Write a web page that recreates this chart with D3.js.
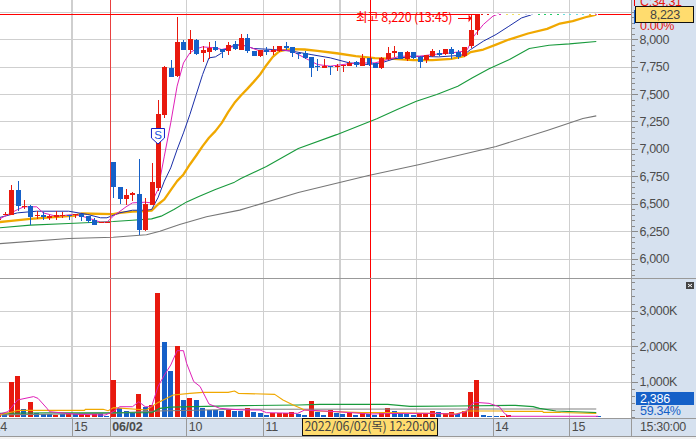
<!DOCTYPE html>
<html><head><meta charset="utf-8">
<script src="https://cdn.jsdelivr.net/npm/d3@7"></script>
<style>html,body{margin:0;padding:0;background:#fff;overflow:hidden}
text{font-family:"Liberation Sans",sans-serif}</style></head>
<body><svg id="c" width="696" height="439"></svg>
<script>
// ---- candles: bar 0 = 2022/06/02 09:00, one bar every 5 minutes, first bar = -18
const firstBar=-18;
const opens=[6356,6402,6393,6621,6469,6484,6387,6393,6372,6381,6393,6402,6396,6408,6387,6356,6329,6326,6882,6654,6539,6578,6593,6265,6493,6645,7313,7742,7669,7979,7900,7997,7872,7881,7930,7912,7891,7960,7906,8015,7891,7845,7900,7884,7888,7939,7930,7875,7875,7839,7754,7736,7760,7748,7754,7760,7790,7760,7833,7781,7739,7815,7872,7884,7821,7884,7839,7809,7851,7875,7869,7912,7881,7851,7936,8088];
const closes=[6365,6408,6621,6478,6484,6378,6393,6375,6384,6399,6402,6387,6408,6378,6347,6305,6332,6332,6651,6539,6584,6596,6259,6502,6694,7322,7751,7657,7979,7900,8006,7863,7897,7921,7906,7884,7951,7915,8015,7891,7845,7897,7881,7900,7936,7921,7872,7866,7830,7742,7745,7760,7745,7760,7769,7784,7766,7830,7778,7736,7830,7875,7888,7821,7884,7830,7796,7860,7888,7860,7909,7866,7839,7930,8088,8223];
const highs=[6380,6425,6675,6703,6530,6493,6432,6426,6402,6432,6423,6402,6408,6408,6387,6372,6332,6332,6882,6654,6630,6609,6909,6554,6873,7450,7760,7806,8203,7997,8088,8003,7936,7979,7985,7912,7979,7988,8045,8049,7891,7897,7927,7936,7942,7976,7930,7875,7891,7839,7824,7815,7760,7778,7769,7803,7803,7866,7833,7781,7839,7930,7942,7884,7891,7884,7851,7860,7912,7906,7909,7930,7900,7930,8220,8223];
const lows=[6345,6395,6393,6432,6454,6305,6362,6356,6356,6350,6372,6356,6372,6347,6326,6305,6329,6326,6548,6499,6493,6523,6217,6256,6493,6615,7283,7651,7651,7900,7869,7860,7796,7824,7891,7827,7854,7897,7906,7875,7845,7836,7857,7857,7881,7897,7836,7824,7824,7654,7708,7736,7678,7708,7699,7754,7745,7760,7754,7736,7730,7809,7839,7815,7799,7821,7742,7784,7839,7845,7860,7821,7821,7839,7921,8042];
// ---- volume in thousands of shares, same bar order
const volumes=[55,75,995,1155,225,420,120,75,75,55,75,120,75,75,65,75,100,30,1040,240,170,100,650,290,330,3490,2110,1300,2000,480,535,480,255,200,205,170,200,178,178,250,150,113,56,113,113,113,150,85,56,450,140,56,197,122,95,103,56,103,75,56,103,250,169,122,85,56,122,122,169,140,103,131,85,169,700,1040,56,28,28,20,47,0,0,0,0,0,0,0,0,0,0,0,0,0,30];
const volumeUp=[1,0,1,1,0,1,0,0,0,1,0,1,0,1,1,1,0,0,1,0,0,0,1,0,1,1,0,0,1,0,1,0,0,0,0,0,1,0,0,1,0,0,0,1,1,1,1,0,0,1,0,0,1,0,0,1,0,1,0,0,1,1,0,0,0,0,1,1,1,0,1,1,0,1,1,1,0,0,0,1,1,0,0,0,0,0,0,0,0,0,0,0,0,0,0];
// ---- price moving averages: bar positions and values
const ma5Bars=[-18,-16,-15,-14,-12,-11,-9,-6,-4,-2,-1,0,2,3,5,6,7,8,9,10,11,12,13,14,16,17,18,19,20,21,23,25,26,28,30,32,34,36,38,41,43,45,48,50,53,55,55.5,56,56.5,58,59.5,60.4];
const ma5=[6356,6417,6447,6472,6472,6417,6387,6402,6372,6332,6332,6387,6472,6508,6514,6508,6630,6934,7237,7572,7784,7875,7912,7930,7921,7906,7921,7936,7951,7936,7891,7891,7906,7891,7830,7769,7754,7769,7784,7784,7815,7845,7845,7860,7875,7891,7906,7967,8027,8134,8210,8231];
const ma10Bars=[-18,-15,-12,-7,-4,-2,-1,1,3,5,6,7,8,9,10,11,12,13,14,15,16,17,18,19,20,22,25,28,31,34,37,40,42,44,47,51,54,55,56,58,60,62,64,65.5];
const ma10=[6372,6417,6432,6432,6402,6372,6372,6417,6441,6441,6447,6554,6706,6827,6994,7146,7313,7496,7678,7830,7839,7875,7927,7942,7951,7915,7906,7891,7860,7830,7784,7769,7784,7821,7845,7839,7851,7860,7906,7982,8043,8118,8194,8222];
const ma20Bars=[-18,-16,-13,-6,-5,0,1,3,5,6,7,8,9,10,11,12,13,14,15,16,17,18,19,20,21,22,23,24,25,26,27,28,30,32,35,38,41,44,47,50,53,55,56,58,60,62,65,68,70,72,74,75.7];
const ma20=[6332,6344,6362,6393,6411,6405,6417,6429,6432,6438,6493,6539,6624,6706,6767,6858,6940,7025,7101,7162,7237,7335,7420,7487,7547,7611,7678,7763,7839,7888,7903,7909,7906,7894,7872,7845,7827,7821,7809,7809,7821,7845,7882,7906,7951,7997,8052,8094,8143,8164,8200,8225];
const ma60Bars=[-18,-13,-7,0,3,6,7.5,9.5,11.5,13.5,16,19,20,24,29,35,41.3,44.5,47.5,50.7,54,56.3,58.9,62.1,65.2,68.3,71.5,75.7];
const ma60=[6280,6305,6320,6338,6350,6362,6387,6447,6517,6569,6630,6697,6730,6839,7004,7130,7274,7359,7435,7496,7572,7648,7730,7815,7915,7945,7957,7979];
const ma120Bars=[-18,-7,0,5.2,7.3,10.4,14.6,19.8,29,40,48,60,68,73.6,75.7];
const ma120=[6135,6183,6195,6217,6250,6311,6381,6442,6602,6757,6858,7022,7168,7277,7301];
// ---- volume moving averages
const vma5Bars=[-18,-16.5,-15,-12.5,-11.8,-10.4,-10,-5.7,-1.3,0,1,3,4,5,6,7,8,9,10,11,11.5,12.6,13.6,15,16.7,20,23,24,28.9,30,35,40.2,45.4,50.7,53.7,55.3,56.3,56.8,58.9,60.5,61.3,62,76];
const vma5=[75,150,480,575,525,245,150,75,55,150,290,290,430,290,290,855,1180,1465,1870,1870,1510,1000,860,365,245,200,197,122,103,197,150,85,103,103,75,150,385,413,385,290,103,20,20];
const vma20Bars=[-18,-15.7,-15,-4.5,-4.4,-1.6,-0.8,0,5.2,6.8,9.4,12,14,18,19,19.6,25.3,26.6,28.2,30,32,39,43,49.6,53.7,55.3,61.3,61.4,67.3,67.4,70,70.1,75.7];
const vma20=[55,150,188,188,216,216,178,263,197,385,620,667,695,695,732,667,639,479,338,197,169,122,122,103,85,169,169,160,160,130,130,125,100];
const vma60Bars=[-18,-10,0,6,7.3,9,20,29,32.4,43,46.5,54,63,65.8,66.8,69.4,75.7];
const vma60=[100,120,120,120,245,280,320,338,357,357,300,310,329,291,244,169,122];
const vma120Bars=[-18,0,7,20,56,75.7];
const vma120=[60,110,170,220,225,225];
// ---- axis labels
const priceTicks=[6000,6250,6500,6750,7000,7250,7500,7750,8000,8250];
const priceMinor=d3.range(5850,8300,50);
const volTicks=[1000,2000,3000];
const volMinor=d3.range(0,3900,200);
const hourBars=[-18.47,-6.47,-0.47,11.53,23.53,35.53,47.53,59.53,71.53];
const hourLabels=["14","15","06/02","10","11","","","14","15"];
const dotBars=[57.7,58.5,60.5,61.5,62.5,63.5,64.5,65.5,66.5,67.5,68.5,69.5,70.5,71.5,72.5,73.5,74.5,75.5];
const dotColors=["#e8170c","#e8170c","#e020b8","#f0e060","#f0e060","#f0e060","#c8d0f0","#c8d0f0","#22cc66","#22cc66","#22cc66","#22cc66","#66dddd","#66dddd","#66dddd","#66dddd","#f0b030","#e060c0"];

const RED="#e8190e",BLUE="#1560c8",PANEL="#d6e1ef",GRID="#cfcfcf",TXT="#4c4c4c";
const svg=d3.select("#c");
const x=d3.scaleLinear().domain([0,1]).range([113.3,119.68]);
const y=d3.scaleLinear().domain([6000,8000]).range([258.6,39.2]);
const v=d3.scaleLinear().domain([0,3000]).range([417,310.6]);
const clip=svg.append("defs").append("clipPath").attr("id","plot");
clip.append("rect").attr("x",0).attr("y",0).attr("width",631).attr("height",418);
const crisp=s=>s.attr("shape-rendering","crispEdges");

// panels
crisp(svg.append("rect").attr("x",632).attr("y",0).attr("width",64).attr("height",436).attr("fill",PANEL));
crisp(svg.append("rect").attr("x",0).attr("y",419).attr("width",696).attr("height",17).attr("fill",PANEL));
crisp(svg.append("rect").attr("x",0).attr("y",437).attr("width",696).attr("height",2).attr("fill","#f2f2f2"));

// grid
const grid=svg.append("g").attr("clip-path","url(#plot)");
crisp(grid.selectAll(".hp").data(priceTicks).join("line").attr("x1",0).attr("x2",631)
 .attr("y1",d=>Math.round(y(d))+.5).attr("y2",d=>Math.round(y(d))+.5).attr("stroke",GRID));
crisp(grid.selectAll(".hv").data(volTicks).join("line").attr("x1",0).attr("x2",631)
 .attr("y1",d=>Math.round(v(d))+.5).attr("y2",d=>Math.round(v(d))+.5).attr("stroke",GRID));
crisp(grid.selectAll(".vg").data(hourBars).join("line").attr("y1",0).attr("y2",418)
 .attr("x1",d=>x(d)).attr("x2",d=>x(d)).attr("stroke",GRID).attr("stroke-width",1.2));
crisp(svg.selectAll(".vs").data(hourBars).join("line").attr("y1",419).attr("y2",436)
 .attr("x1",d=>x(d)).attr("x2",d=>x(d)).attr("stroke","#999"));

const plot=svg.append("g").attr("clip-path","url(#plot)");
// volume bars
crisp(plot.selectAll(".vb").data(volumes).join("rect")
 .attr("x",(d,i)=>Math.round(x(firstBar+i)-2.5)).attr("width",5)
 .attr("y",d=>v(d)).attr("height",d=>v(0)-v(d))
 .attr("fill",(d,i)=>volumeUp[i]?RED:BLUE));
// volume MAs
const drawLine=(bars,vals,sc,color,w)=>{
 const ln=d3.line().x((d,i)=>x(bars[i])).y(d=>sc(d));
 plot.append("path").attr("d",ln(vals)).attr("fill","none").attr("stroke",color).attr("stroke-width",w).attr("stroke-linejoin","round");
};
drawLine(vma120Bars,vma120,v,"#808080",1.1);
drawLine(vma60Bars,vma60,v,"#189a3c",1.2);
drawLine(vma20Bars,vma20,v,"#f0a800",1.1);
drawLine(vma5Bars,vma5,v,"#e020b8",1);
// price MAs
drawLine(ma120Bars,ma120,y,"#777777",1.1);
drawLine(ma60Bars,ma60,y,"#189a3c",1.1);
drawLine(ma20Bars,ma20,y,"#f0a800",2.3);
drawLine(ma10Bars,ma10,y,"#1a2ea8",1);
drawLine(ma5Bars,ma5,y,"#e020b8",1);
// candles
const cg=plot.append("g");
opens.forEach((o,i)=>{
 const c=closes[i],col=c>=o?RED:BLUE,cx=Math.round(x(firstBar+i))+.5;
 crisp(cg.append("line").attr("x1",cx).attr("x2",cx).attr("y1",y(highs[i])).attr("y2",y(lows[i])).attr("stroke",col));
 crisp(cg.append("rect").attr("x",cx-2.5).attr("width",5).attr("y",y(Math.max(o,c))).attr("height",Math.max(1,Math.abs(y(o)-y(c)))).attr("fill",col));
});
// day separator, crosshair, high line
const dayBar=-0.47,crossBar=40.3,topPrice=8225;
crisp(svg.append("line").attr("x1",x(dayBar)).attr("x2",x(dayBar)).attr("y1",0).attr("y2",418).attr("stroke","#e84040"));
crisp(svg.append("line").attr("x1",x(crossBar)).attr("x2",x(crossBar)).attr("y1",0).attr("y2",418).attr("stroke","#ff0000"));
crisp(svg.append("line").attr("x1",0).attr("x2",631).attr("y1",y(topPrice)).attr("y2",y(topPrice)).attr("stroke","#ff0000"));
crisp(svg.append("line").attr("x1",x(57.5)).attr("x2",x(76)).attr("y1",y(topPrice)).attr("y2",y(topPrice)).attr("stroke","#fff"));
crisp(svg.selectAll(".dot").data(dotBars).join("rect").attr("x",d=>x(d)).attr("y",y(topPrice)-.5).attr("width",2).attr("height",1).attr("fill",(d,i)=>dotColors[i]));
// high annotation
svg.append("text").attr("x",356).attr("y",22).attr("fill","#f00").attr("font-size",12.5).attr("letter-spacing","-0.2")
 .style("font-family",'"Noto Sans CJK KR"').text("최고 8,220 (13:45)");
crisp(svg.append("line").attr("x1",x(54.1)).attr("x2",x(56)).attr("y1",y(8190)).attr("y2",y(8190)).attr("stroke","#f00"));
svg.append("path").attr("d",d3.line()([[x(56)-2,y(8190)-4],[x(56)+1,y(8190)],[x(56)-2,y(8190)+4]])+"Z").attr("fill","#f00");
// S marker
const sm=svg.append("g").attr("transform",`translate(${x(7)},128)`);
sm.append("path").attr("d",d3.line()([[-6.5,.5],[6.5,.5],[6.5,10],[0,16],[-6.5,10]])+"Z").attr("fill","#fff").attr("stroke","#1020c8").attr("stroke-width",1);
sm.append("text").attr("x",0).attr("y",11).attr("text-anchor","middle").attr("font-size",11.5).attr("fill","#1a50e0").text("S");

// axes
const fmt=d3.format(",");
const pa=svg.append("g").attr("transform","translate(631.5,0)").call(d3.axisRight(y).tickValues(priceTicks.filter(d=>d<8250)).tickSize(6).tickPadding(2).tickFormat(fmt));
const pm=svg.append("g").attr("transform","translate(631.5,0)").call(d3.axisRight(y).tickValues(priceMinor).tickSize(3).tickFormat(""));
const va=svg.append("g").attr("transform","translate(631.5,0)").call(d3.axisRight(v).tickValues(volTicks).tickSize(6).tickPadding(2).tickFormat(d=>fmt(d)+"K"));
const vm=svg.append("g").attr("transform","translate(631.5,0)").call(d3.axisRight(v).tickValues(volMinor).tickSize(3).tickFormat(""));
[pa,pm,va,vm].forEach(a=>{a.select(".domain").remove();
 a.selectAll("line").attr("stroke","#8a8a8a").attr("shape-rendering","crispEdges");
 a.selectAll("text").attr("font-size",12.5).attr("letter-spacing","-0.35").attr("fill",TXT).style("font-family",'"Liberation Sans"');});
// frame lines
crisp(svg.append("line").attr("x1",631.5).attr("x2",631.5).attr("y1",0).attr("y2",436).attr("stroke","#999"));
crisp(svg.append("line").attr("x1",0).attr("x2",696).attr("y1",278.5).attr("y2",278.5).attr("stroke","#999"));
crisp(svg.append("line").attr("x1",0).attr("x2",696).attr("y1",418.5).attr("y2",418.5).attr("stroke","#999"));
crisp(svg.append("line").attr("x1",0).attr("x2",696).attr("y1",436.5).attr("y2",436.5).attr("stroke","#999"));

// bottom labels
svg.selectAll(".hl").data(hourBars).join("text").attr("x",(d,i)=>x(d)+(i==0?-2:2)).attr("y",431)
 .attr("font-size",(d,i)=>12.5).attr("font-weight",(d,i)=>i==2?"bold":"normal").attr("letter-spacing","-0.2").attr("fill",TXT).text((d,i)=>hourLabels[i]);
svg.append("text").attr("x",640).attr("y",431).attr("font-size",12.5).attr("letter-spacing","-0.35").attr("fill",TXT).text("15:30:00");
// crosshair time box
crisp(svg.append("rect").attr("x",302.5).attr("y",418.5).attr("width",135).attr("height",17).attr("fill","#ffdc6e").attr("stroke","#111").attr("stroke-width",1.5));
svg.append("text").attr("x",370).attr("y",431).attr("text-anchor","middle").attr("font-size",12.5).attr("letter-spacing","-0.25").attr("fill","#444")
 .style("font-family",'"Noto Sans CJK KR"').text("2022/06/02(목) 12:20:00");
// right side status
const st=svg.append("g");
crisp(st.append("line").attr("x1",634.5).attr("x2",634.5).attr("y1",0).attr("y2",6).attr("stroke","#e00"));
crisp(st.append("line").attr("x1",634.5).attr("x2",634.5).attr("y1",10).attr("y2",24).attr("stroke",BLUE));
st.append("text").attr("x",640).attr("y",6).attr("fill","#e8190e").attr("font-size",12.5).attr("letter-spacing","-0.3").text("C:34.31");
st.append("text").attr("x",640).attr("y",30).attr("fill","#e8190e").attr("font-size",12.5).attr("letter-spacing","-0.3").text("0.00%");
crisp(st.append("rect").attr("x",635.5).attr("y",6.5).attr("width",58).attr("height",16).attr("fill","#ffdc6e").attr("stroke","#111").attr("stroke-width",1.5));
st.append("text").attr("x",665).attr("y",19).attr("text-anchor","middle").attr("fill","#444").attr("font-size",12.5).attr("letter-spacing","-0.3").text("8,223");
crisp(st.append("rect").attr("x",636).attr("y",392).attr("width",58).attr("height",13).attr("fill",BLUE));
st.append("text").attr("x",640).attr("y",403).attr("fill","#fff").attr("font-size",12.5).attr("letter-spacing","-0.3").text("2,386");
st.append("text").attr("x",640).attr("y",415).attr("fill",BLUE).attr("font-size",12.5).attr("letter-spacing","-0.3").text("59.34%");
crisp(st.append("rect").attr("x",686).attr("y",282).attr("width",8).attr("height",7).attr("fill","#444"));
st.append("path").attr("d","M688 284L692 287M692 284L688 287").attr("stroke","#fff").attr("stroke-width",1);
</script></body></html>
